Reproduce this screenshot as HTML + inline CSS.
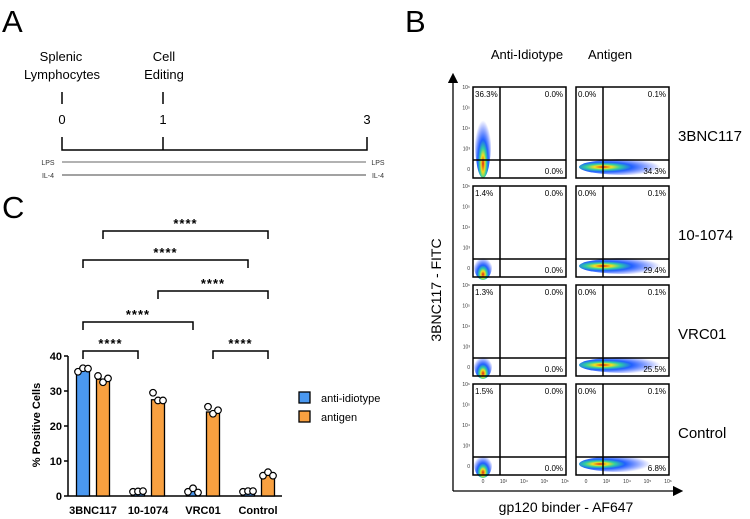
<!DOCTYPE html>
<html><head><meta charset="utf-8"><style>
html,body{margin:0;padding:0;background:#fff;}
svg{display:block;font-family:"Liberation Sans",sans-serif;}
</style></head><body>
<svg id="fig" width="750" height="519" viewBox="0 0 750 519">
<defs>
<radialGradient id="gv" cx="50%" cy="80%" r="60%">
<stop offset="0" stop-color="#e02010"/><stop offset="0.2" stop-color="#f0e020"/><stop offset="0.35" stop-color="#30d0a0"/><stop offset="0.55" stop-color="#2060ff"/><stop offset="1" stop-color="#2040ff" stop-opacity="0"/></radialGradient>
<radialGradient id="gh" cx="25%" cy="50%" r="60%">
<stop offset="0" stop-color="#e02010"/><stop offset="0.15" stop-color="#f0e020"/><stop offset="0.3" stop-color="#30d0a0"/><stop offset="0.5" stop-color="#2060ff"/><stop offset="1" stop-color="#2040ff" stop-opacity="0"/></radialGradient>
<marker id="arr" markerWidth="8" markerHeight="8" refX="4" refY="4" orient="auto"><path d="M0,0 L8,4 L0,8 z" fill="#000"/></marker>
</defs>
<!-- Panel letters -->
<text x="2" y="32" font-size="31">A</text>
<text x="405" y="32" font-size="31">B</text>
<text x="2" y="218" font-size="31">C</text>
<!-- Panel A timeline -->
<g font-size="13" text-anchor="middle">
<text x="61" y="61">Splenic</text><text x="62" y="79">Lymphocytes</text>
<text x="164" y="61">Cell</text><text x="164" y="79">Editing</text>
<line x1="62" y1="92" x2="62" y2="104" stroke="#000" stroke-width="1.5"/>
<line x1="163" y1="92" x2="163" y2="104" stroke="#000" stroke-width="1.5"/>
<text x="62" y="124">0</text><text x="163" y="124">1</text><text x="367" y="124">3</text>
<path d="M62,137 V150 H367 V137 M163,137 V150" fill="none" stroke="#000" stroke-width="1.5"/>
<line x1="62" y1="162" x2="366" y2="162" stroke="#666" stroke-width="1"/>
<line x1="62" y1="175" x2="366" y2="175" stroke="#444" stroke-width="1"/>
<g font-size="7" fill="#333"><text x="48" y="165">LPS</text><text x="378" y="165">LPS</text><text x="48" y="178">IL-4</text><text x="378" y="178">IL-4</text></g>
</g>
<g id="panelB"></g>
<g id="panelC"></g>
</svg>
<script>
const NS="http://www.w3.org/2000/svg";
function mk(p,tag,at,txt){const e=document.createElementNS(NS,tag);for(const k in at)e.setAttribute(k,at[k]);if(txt!==undefined)e.textContent=txt;p.appendChild(e);return e;}

// ---------- Panel C data ----------
const categories=["3BNC117","10-1074","VRC01","Control"];
const antiIdiotype=[36.2,1.3,1.5,1.3];
const antigen=[33.4,27.5,24.0,6.0];
const antiIdiotypePoints=[[35.5,36.5,36.4],[1.2,1.3,1.4],[1.2,2.2,1.0],[1.2,1.4,1.4]];
const antigenPoints=[[34.3,32.5,33.6],[29.5,27.3,27.3],[25.5,23.5,24.5],[5.8,6.8,5.8]];
const yTicks=[0,10,20,30,40];
const seriesNames=["anti-idiotype","antigen"];
// brackets: [fromCategory,fromSeries,toCategory,toSeries,level]
const brackets=[[0,0,1,0,0],[2,1,3,1,0],[0,0,2,0,1],[1,1,3,1,2],[0,0,3,0,3],[0,1,3,1,4]];

const C=document.getElementById('panelC');
const y0=496,yPer=3.5,xAx=68,xEnd=282;
const yS=v=>y0-v*yPer;
const xS=(ci,s)=>83+ci*55+s*20;
const bw=13;
const colors=["#4a98f0","#f8a040"];
// axes
const ax=mk(C,'g',{});

mk(ax,'line',{x1:xAx,y1:yS(40),x2:xAx,y2:y0,stroke:'#000','stroke-width':1.5});
yTicks.forEach(t=>{mk(ax,'line',{x1:xAx-4,y1:yS(t),x2:xAx,y2:yS(t),stroke:'#000','stroke-width':1.5});
 const tl=mk(ax,'text',{x:xAx-6,y:yS(t)+4,'text-anchor':'end','font-size':11,'font-weight':'bold'},t);
 });
const xa=mk(C,'line',{x1:xAx,y1:y0,x2:xEnd,y2:y0,stroke:'#000','stroke-width':1.5});

const yt=mk(C,'text',{x:0,y:0,transform:'translate(40,425) rotate(-90)','text-anchor':'middle','font-size':11,'font-weight':'bold'},'% Positive Cells');

categories.forEach((c,i)=>{
 const t=mk(C,'text',{x:(xS(i,0)+xS(i,1))/2,y:514,'text-anchor':'middle','font-size':11,'font-weight':'bold'},c);
 
 [antiIdiotype,antigen].forEach((ser,s)=>{
  const v=ser[i];
  const b=mk(C,'rect',{x:xS(i,s)-bw/2,y:yS(v),width:bw,height:y0-yS(v),fill:colors[s],stroke:'#000','stroke-width':1.3});
  
  const pts=(s?antigenPoints:antiIdiotypePoints)[i];
  pts.forEach((p,k)=>{const d=mk(C,'circle',{cx:xS(i,s)+(k-1)*5,cy:yS(p),r:3.3,fill:'#fff',stroke:'#000','stroke-width':1.2});
   });
 });
});
const lvlY=[351,322,291,260,231];
brackets.forEach(b=>{
 const x1=xS(b[0],b[1]),x2=xS(b[2],b[3]),y=lvlY[b[4]];
 const g=mk(C,'g',{});
 mk(g,'path',{d:`M${x1},${y+8}V${y}H${x2}V${y+8}`,fill:'none',stroke:'#000','stroke-width':1.5});
 mk(g,'text',{x:(x1+x2)/2,y:y-3,'text-anchor':'middle','font-size':13,'font-weight':'bold','letter-spacing':'1'},'****');
});
seriesNames.forEach((n,s)=>{
 const g=mk(C,'g',{});
 mk(g,'rect',{x:299,y:392+s*19,width:11,height:11,fill:colors[s],stroke:'#000','stroke-width':1.3});
 mk(g,'text',{x:321,y:402+s*19,'font-size':11},n);
});

// ---------- Panel B data ----------
const rowLabels=["3BNC117","10-1074","VRC01","Control"];
const antiIdPct=[["36.3%","0.0%","0.0%"],["1.4%","0.0%","0.0%"],["1.3%","0.0%","0.0%"],["1.5%","0.0%","0.0%"]];
const antigenPct=[["0.0%","0.1%","34.3%"],["0.0%","0.1%","29.4%"],["0.0%","0.1%","25.5%"],["0.0%","0.1%","6.8%"]];
const yTickLabels=["10⁶","10⁵","10⁴","10³","0"];
const xTickLabels=["0","10³","10⁴","10⁵","10⁶"];
const B=document.getElementById('panelB');
const colX=[473,576],pw=93,ph=91,rowY=[87,186,285,384];
mk(B,'text',{x:527,y:59,'text-anchor':'middle','font-size':13},'Anti-Idiotype');
mk(B,'text',{x:610,y:59,'text-anchor':'middle','font-size':13},'Antigen');
mk(B,'line',{x1:453,y1:491,x2:453,y2:78,stroke:'#000','stroke-width':1.3,'marker-end':'url(#arr)'});
mk(B,'line',{x1:453,y1:491,x2:678,y2:491,stroke:'#000','stroke-width':1.3,'marker-end':'url(#arr)'});
const yl=mk(B,'text',{transform:'translate(441,290) rotate(-90)','text-anchor':'middle','font-size':14},'3BNC117 - FITC');

const xl=mk(B,'text',{x:566,y:512,'text-anchor':'middle','font-size':14},'gp120 binder - AF647');

rowLabels.forEach((r,i)=>{
 const ry=rowY[i];
 const rl=mk(B,'text',{x:678,y:ry+54,'font-size':15},r);
 
 yTickLabels.forEach((t,k)=>mk(B,'text',{x:470,y:ry+2+k*(i===0?20.5:20.5),'text-anchor':'end','font-size':5,fill:'#333'},t));
 [0,1].forEach(c=>{
  const x=colX[c];
  const g=mk(B,'g',{});
  const gx=c?603:500,gy=ry+73;
  if(c===0){
   if(i===0) mk(g,'ellipse',{cx:483,cy:ry+55,rx:8,ry:36,fill:'url(#gv)'});
   else mk(g,'ellipse',{cx:483,cy:ry+80,rx:9,ry:14,fill:'url(#gv)'});
  } else {
   const rx=i===3?42:48;
   mk(g,'ellipse',{cx:x+3+rx,cy:ry+80,rx:rx,ry:8,fill:'url(#gh)'});
  }
  mk(g,'rect',{x:x,y:ry,width:pw,height:ph,fill:'none',stroke:'#000','stroke-width':1.5});
  mk(g,'line',{x1:gx,y1:ry,x2:gx,y2:ry+ph,stroke:'#000','stroke-width':1.5});
  mk(g,'line',{x1:x,y1:gy,x2:x+pw,y2:gy,stroke:'#000','stroke-width':1.5});
  const p=c?antigenPct[i]:antiIdPct[i];
  mk(g,'text',{x:x+2,y:ry+10,'font-size':8},p[0]);
  mk(g,'text',{x:x+pw-3,y:ry+10,'font-size':8,'text-anchor':'end'},p[1]);
  mk(g,'text',{x:x+pw-3,y:ry+87,'font-size':8,'text-anchor':'end'},p[2]);
  if(i===3) xTickLabels.forEach((t,k)=>mk(B,'text',{x:x+10+k*20.5,y:483,'text-anchor':'middle','font-size':5,fill:'#333'},t));
 });
});
</script>
</body></html>
